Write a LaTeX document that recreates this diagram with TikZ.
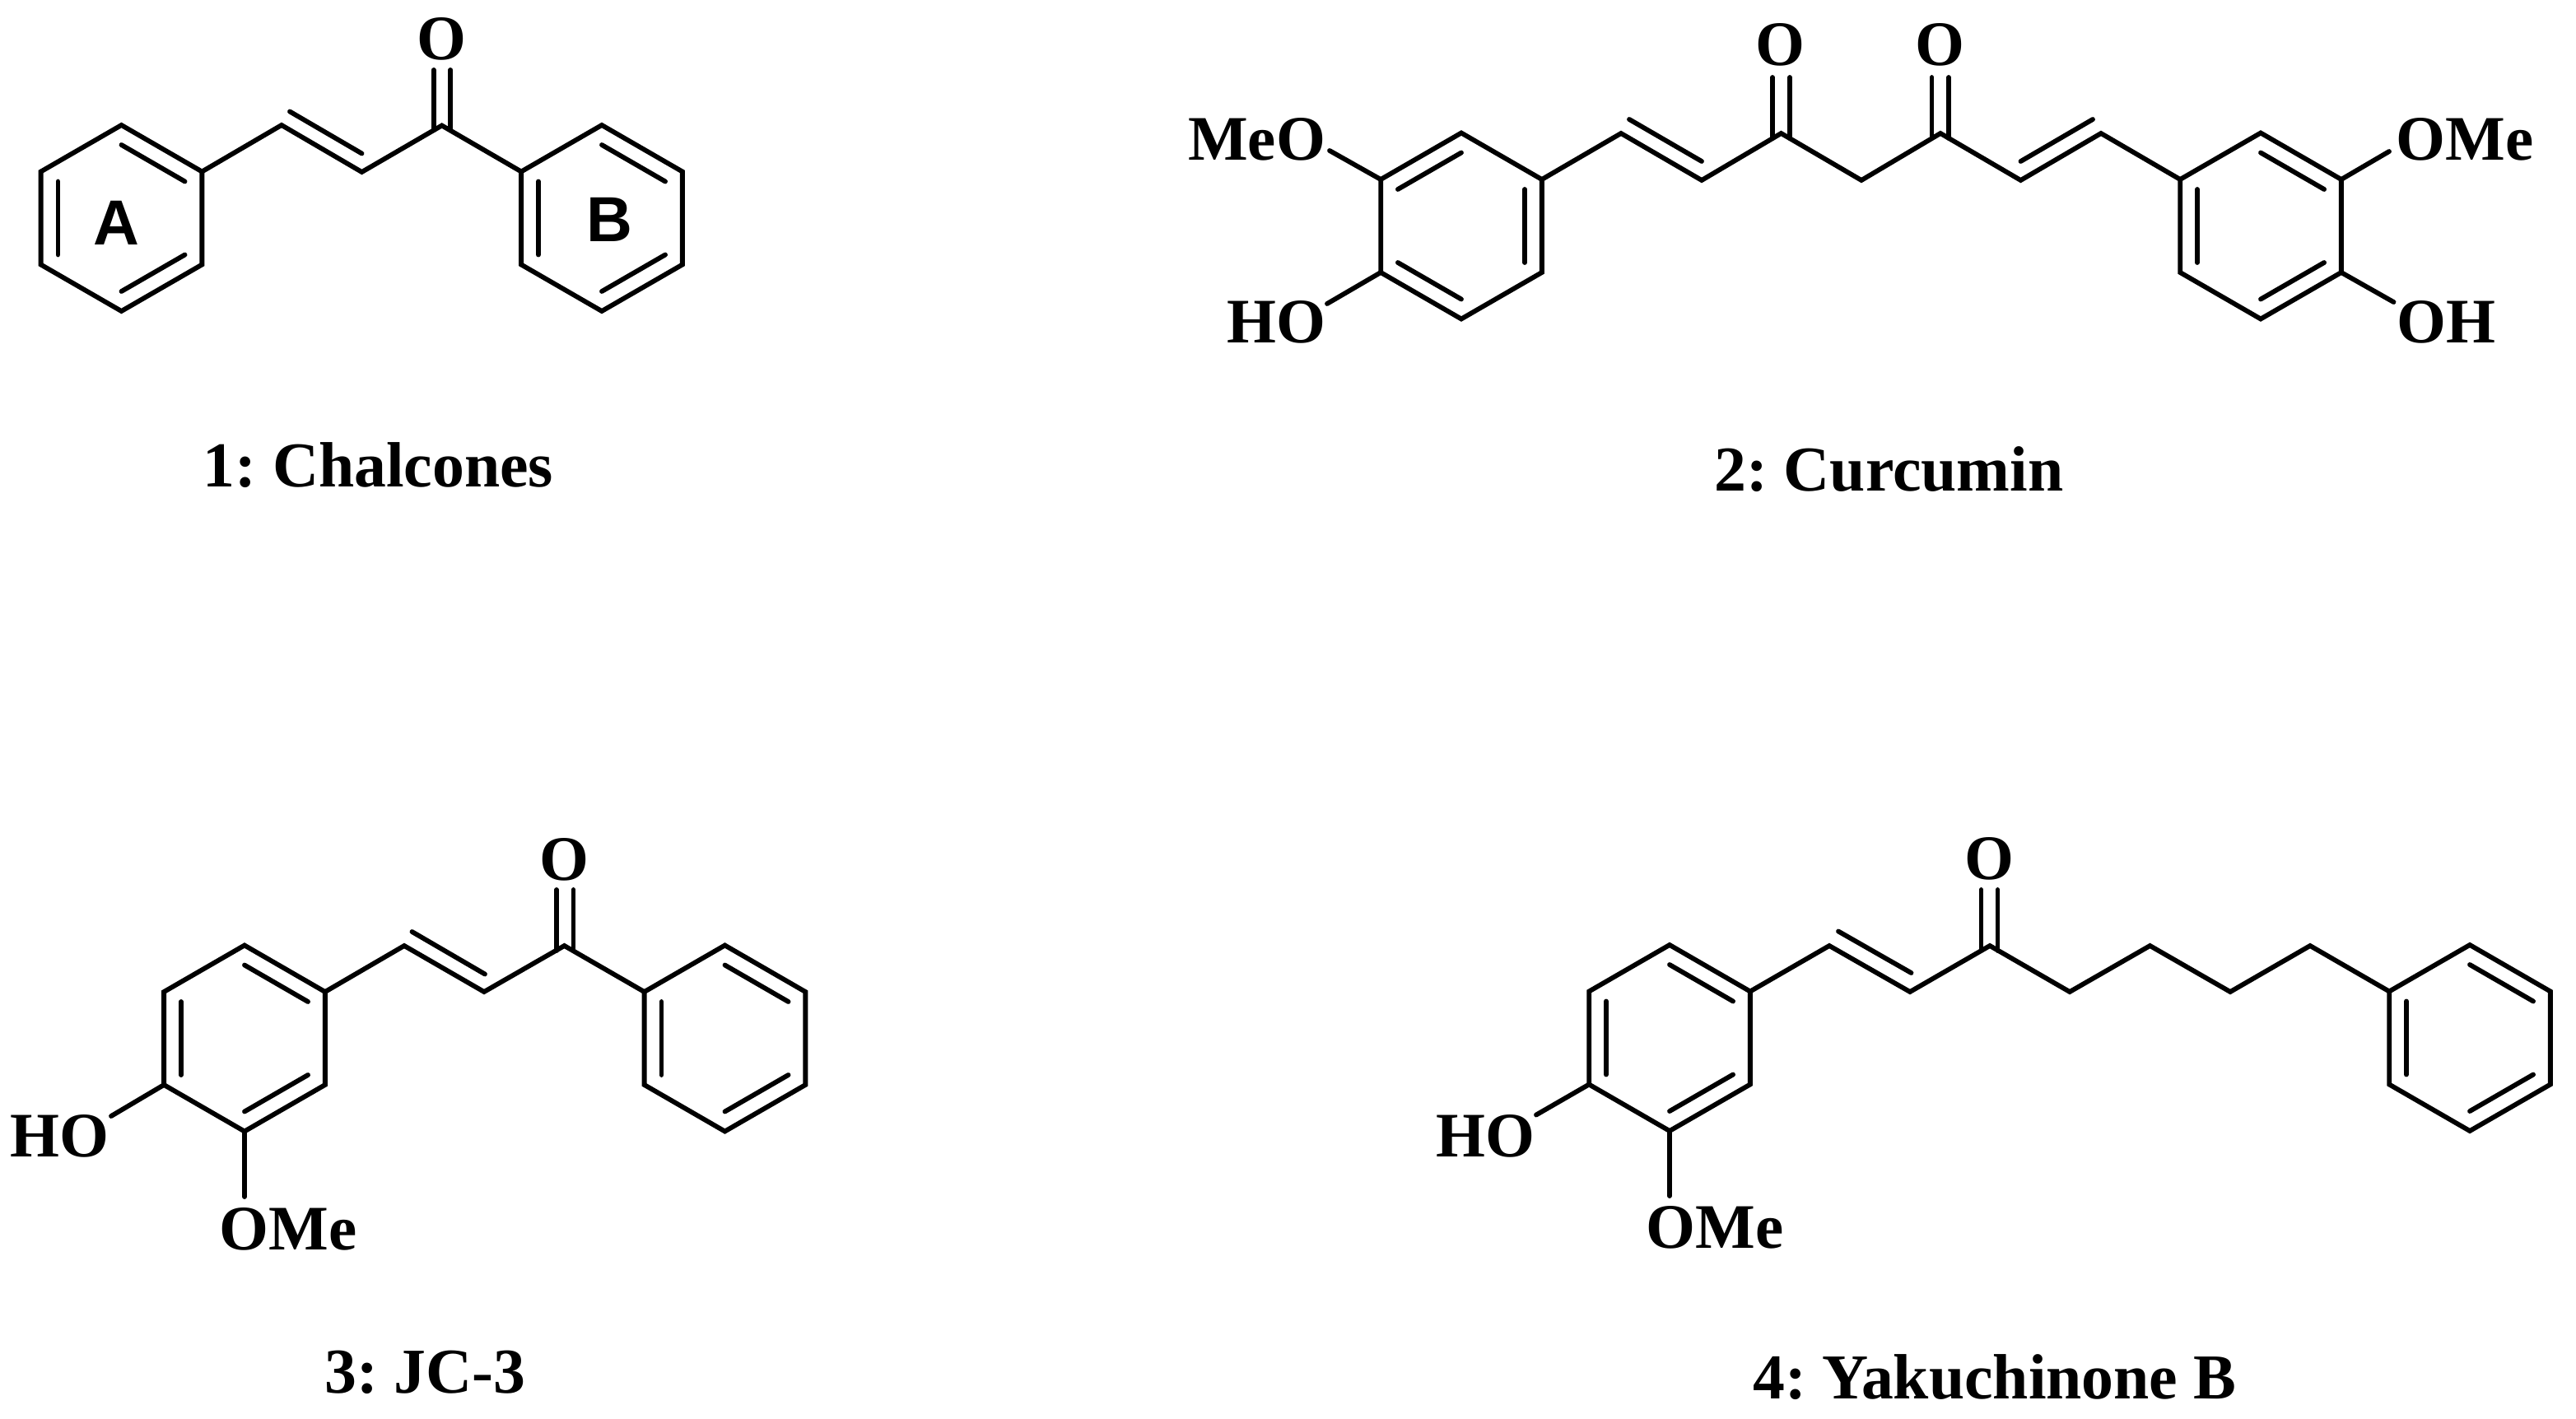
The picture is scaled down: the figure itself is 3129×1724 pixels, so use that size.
\documentclass[tikz,border=0pt]{standalone}
\usepackage{fontspec}
\setmainfont{Liberation Serif}
\newfontfamily\ringfont{Liberation Sans}
\frenchspacing

\tikzset{
  bond/.style={line width=1.65pt,line cap=round,line join=miter},
  atomlabel/.style={inner sep=0pt,anchor=base,font=\fontsize{21.9}{24}\selectfont\bfseries},
  caption/.style={inner sep=0pt,anchor=base,font=\fontsize{22.1}{24}\selectfont\bfseries},
  ringlabel/.style={inner sep=0pt,anchor=base,font=\fontsize{22}{24}\selectfont\ringfont\bfseries}
}

% name, centre, start angles of the inner bonds
\newcommand{\benzring}[3]{
  \foreach \a in {30,90,...,330}
    \path (#2) ++(\a:113) coordinate (#1\a);
  \draw[bond] (#130) -- (#190) -- (#1150) -- (#1210) -- (#1270) -- (#1330) -- cycle;
  \foreach \a in {#3}
    \draw[bond] (#2) +(\a:89) -- +(\a+60:89);
}

\begin{document}
\begin{tikzpicture}[x=0.01cm,y=-0.01cm]
  \useasboundingbox (0,0) rectangle (3129,1724);

  % 1: two rings joined by the enone
  \benzring{A}{147.5,265}{30,150,270}
  \benzring{B}{731,265}{30,150,270}
  \coordinate (c1a) at (342,152);
  \coordinate (c1b) at (439.5,209);
  \coordinate (c1c) at (536.7,152.5);
  \coordinate (c1d) at (352,135.5);
  \coordinate (c1e) at (439.5,186.5);
  \coordinate (o1l) at (526.7,85);
  \coordinate (o1r) at (547.3,85);
  \coordinate (o1m) at (526.7,158);
  \coordinate (o1n) at (547.3,158);
  \draw[bond] (A330) -- (c1a) -- (c1b) -- (c1c) -- (B210);
  \draw[bond] (c1d) -- (c1e);
  \draw[bond] (o1l) -- (o1m);
  \draw[bond] (o1r) -- (o1n);
  \node[atomlabel] (o1) at (536.7,72.5) {O};
  \node[ringlabel] (labA) at (141.5,297) {A};
  \node[ringlabel] (labB) at (740,293) {B};
  \node[caption] (cap1) at (459.5,591) {1: Chalcones};

  % 2: the two ketones sit on a CH2
  \benzring{C}{1775,274.5}{90,210,330}
  \benzring{D}{2746,274.5}{30,150,270}
  \coordinate (c2a) at (1969,162);
  \coordinate (c2b) at (2067,219);
  \coordinate (c2c) at (2163.5,162);
  \coordinate (c2d) at (2261,219);
  \coordinate (c2e) at (2357,162);
  \coordinate (c2f) at (2454.5,219);
  \coordinate (c2g) at (2552,162);
  \coordinate (c2h) at (1979,145);
  \coordinate (c2i) at (2067,196);
  \coordinate (c2j) at (2454.5,196);
  \coordinate (c2k) at (2542,145);
  \coordinate (o2a) at (2153,94);
  \coordinate (o2b) at (2174,94);
  \coordinate (o2c) at (2153,168);
  \coordinate (o2d) at (2174,168);
  \coordinate (o2e) at (2346.5,94);
  \coordinate (o2f) at (2367,94);
  \coordinate (o2g) at (2346.5,168);
  \coordinate (o2h) at (2367,168);
  \coordinate (meo2l) at (1615,183);
  \coordinate (ho2l) at (1612,369);
  \coordinate (meo2r) at (2902,184);
  \coordinate (ho2r) at (2907.5,367);
  \draw[bond] (C330) -- (c2a) -- (c2b) -- (c2c) -- (c2d) -- (c2e) -- (c2f) -- (c2g) -- (D210);
  \draw[bond] (c2h) -- (c2i);
  \draw[bond] (c2j) -- (c2k);
  \draw[bond] (o2a) -- (o2c);
  \draw[bond] (o2b) -- (o2d);
  \draw[bond] (o2e) -- (o2g);
  \draw[bond] (o2f) -- (o2h);
  \draw[bond] (C210) -- (meo2l);
  \draw[bond] (C150) -- (ho2l);
  \draw[bond] (D330) -- (meo2r);
  \draw[bond] (D30) -- (ho2r);
  \node[atomlabel] (o2) at (2162,80) {O};
  \node[atomlabel] (o3) at (2356.5,80) {O};
  \node[atomlabel] (meol) at (1526.5,194) {MeO};
  \node[atomlabel] (hol) at (1550,416) {HO};
  \node[atomlabel] (omer) at (2994,194) {OMe};
  \node[atomlabel] (ohr) at (2971,416) {OH};
  \node[caption] (cap2) at (2294.5,596) {2: Curcumin};

  % 3: same enone as 1
  \benzring{E}{297,1261.5}{30,150,270}
  \benzring{F}{880.5,1261.5}{30,150,270}
  \coordinate (c3a) at (491,1149);
  \coordinate (c3b) at (588,1205);
  \coordinate (c3c) at (685.5,1149);
  \coordinate (c3d) at (500.5,1132);
  \coordinate (c3e) at (589,1183.5);
  \coordinate (o3a) at (676,1081);
  \coordinate (o3b) at (696.5,1081);
  \coordinate (o3c) at (676,1155);
  \coordinate (o3d) at (696.5,1155);
  \coordinate (ho3) at (135,1356);
  \coordinate (ome3) at (297,1454);
  \draw[bond] (E330) -- (c3a) -- (c3b) -- (c3c) -- (F210);
  \draw[bond] (c3d) -- (c3e);
  \draw[bond] (o3a) -- (o3c);
  \draw[bond] (o3b) -- (o3d);
  \draw[bond] (E150) -- (ho3);
  \draw[bond] (E90) -- (ome3);
  \node[atomlabel] (o4) at (685.5,1069) {O};
  \node[atomlabel] (ho3l) at (72,1405) {HO};
  \node[atomlabel] (ome3l) at (350,1518) {OMe};
  \node[caption] (cap3) at (516.5,1692) {3: JC-3};

  % 4: longer chain to the second ring
  \benzring{G}{2028,1261}{30,150,270}
  \benzring{H}{3000,1261}{30,150,270}
  \coordinate (c4a) at (2222,1149);
  \coordinate (c4b) at (2320,1205);
  \coordinate (c4c) at (2417,1149);
  \coordinate (c4d) at (2514,1205);
  \coordinate (c4e) at (2611.5,1149);
  \coordinate (c4f) at (2709,1205);
  \coordinate (c4g) at (2806,1149);
  \coordinate (c4h) at (2233,1131.5);
  \coordinate (c4i) at (2321.5,1182);
  \coordinate (o4a) at (2406.5,1081);
  \coordinate (o4b) at (2426.5,1081);
  \coordinate (o4c) at (2406.5,1155);
  \coordinate (o4d) at (2426.5,1155);
  \coordinate (ho4) at (1866,1354.5);
  \coordinate (ome4) at (2028,1453);
  \draw[bond] (G330) -- (c4a) -- (c4b) -- (c4c) -- (c4d) -- (c4e) -- (c4f) -- (c4g) -- (H210);
  \draw[bond] (c4h) -- (c4i);
  \draw[bond] (o4a) -- (o4c);
  \draw[bond] (o4b) -- (o4d);
  \draw[bond] (G150) -- (ho4);
  \draw[bond] (G90) -- (ome4);
  \node[atomlabel] (o5) at (2416.5,1068) {O};
  \node[atomlabel] (ho4l) at (1804,1405) {HO};
  \node[atomlabel] (ome4l) at (2083,1516) {OMe};
  \node[caption] (cap4) at (2423,1699.5) {4: Yakuchinone B};
\end{tikzpicture}
\end{document}
